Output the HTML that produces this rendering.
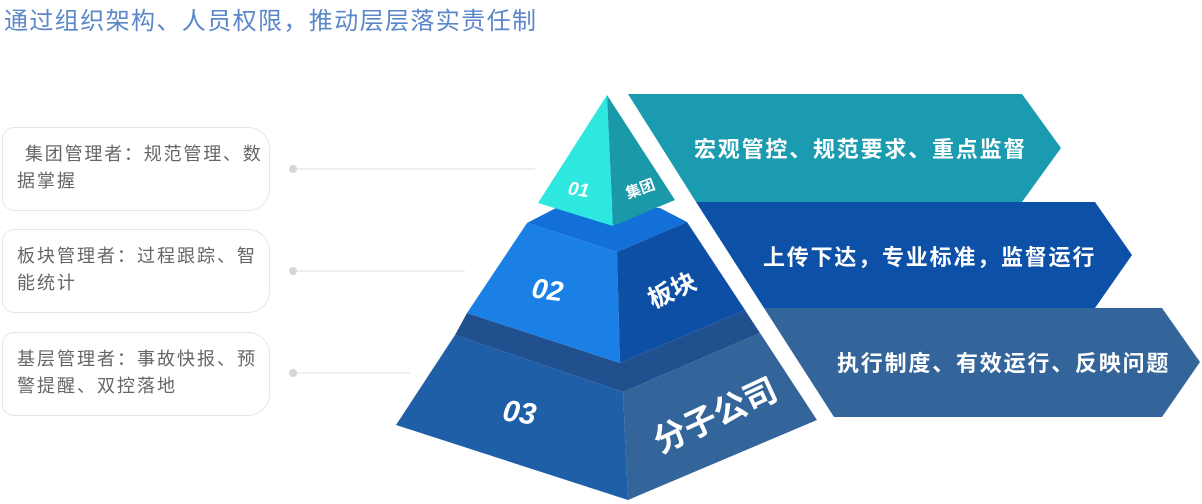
<!DOCTYPE html>
<html><head><meta charset="utf-8"><style>
body{margin:0;width:1202px;height:504px;background:#fff;overflow:hidden;position:relative;font-family:"Liberation Sans","Noto Sans CJK SC",sans-serif}
.t{position:absolute;left:4px;top:1px;font-size:24px;color:#5b87c9;letter-spacing:1.4px;white-space:nowrap}
.b{position:absolute;left:2px;width:268px;height:84px;border:1px solid #e6e6e6;border-radius:12px 22px 22px 12px;box-sizing:border-box;font-size:18px;letter-spacing:2px;color:#666;line-height:27px;padding:13px 0 0 14px;white-space:nowrap}
</style></head><body>
<div class="t">通过组织架构、人员权限，推动层层落实责任制</div>
<div class="b" style="top:127px"><span style="margin-left:8px;letter-spacing:1.8px">集团管理者：规范管理、数</span><br>据掌握</div>
<div class="b" style="top:229px">板块管理者：过程跟踪、智<br>能统计</div>
<div class="b" style="top:332px">基层管理者：事故快报、预<br>警提醒、双控落地</div>
<svg width="1202" height="504" style="position:absolute;left:0;top:0" font-family="Liberation Sans,Noto Sans CJK SC,sans-serif">
<g stroke="#f0f0f0" stroke-width="2"><line x1="293" y1="169" x2="535" y2="169"/><line x1="293" y1="271" x2="465" y2="271"/><line x1="293" y1="373" x2="410" y2="373"/></g>
<g fill="#d6d6d6"><circle cx="293" cy="169" r="4"/><circle cx="293" cy="271" r="4"/><circle cx="293" cy="373" r="4"/></g>
<polygon points="628,94 1022,94 1061,148 1022,202 696,202" fill="#1a9bb0"/>
<polygon points="696,202 1095,202 1132,255 1095,308 764,308" fill="#0c50a8"/>
<polygon points="764,308 1162,308 1200,362 1162,417 834,417" fill="#33649a"/>
<g fill="#fff" font-weight="bold" font-size="22" letter-spacing="1.8">
<text x="694" y="157">宏观管控、规范要求、重点监督</text>
<text x="763" y="265">上传下达，专业标准，监督运行</text>
<text x="837" y="371">执行制度、有效运行、反映问题</text>
</g>
<polygon points="467,313 455,335 623,392 760,333 745,310 620,363" fill="#21508f"/>
<polygon points="455,335 623,392 628,500 396,425" fill="#1f5fa8"/>
<polygon points="623,392 760,333 817,420 628,500" fill="#33649a"/>
<polygon points="527,223 556,208 660,208 687,222 617,252" fill="#1270d8"/>
<polygon points="527,223 617,252 620,363 467,313" fill="#1a80e6"/>
<polygon points="617,252 687,222 745,310 620,363" fill="#0d4fa5"/>
<polygon points="607,95 613,226 538,203" fill="#2ee8e0"/>
<polygon points="607,95 675,200 613,226" fill="#1a9aa8"/>
<g fill="#fff" font-style="italic" font-weight="bold">
<text x="568" y="196" font-size="19" transform="rotate(8 580 190)">01</text>
<text x="532" y="300" font-size="28" transform="rotate(8 552 290)">02</text>
<text x="503" y="423" font-size="30" transform="rotate(8 523 412)">03</text>
</g>
<g fill="#fff" font-weight="bold">
<text x="640" y="194" font-size="15" text-anchor="middle" transform="rotate(-20 640 188)">集团</text>
<text x="672" y="299" font-size="25" text-anchor="middle" transform="rotate(-25 672 290)">板块</text>
<text x="715" y="427" font-size="33" text-anchor="middle" transform="rotate(-25 715 415)">分子公司</text>
</g>
</svg>
</body></html>
